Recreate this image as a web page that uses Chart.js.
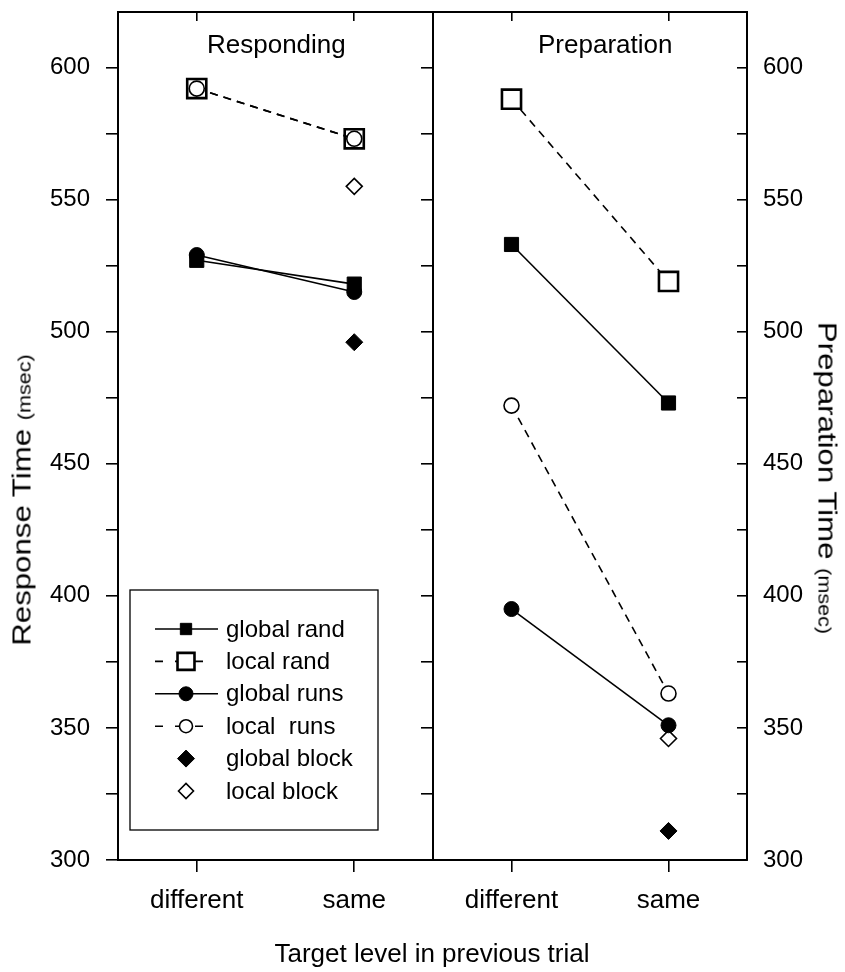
<!DOCTYPE html>
<html>
<head>
<meta charset="utf-8">
<title>Responding / Preparation</title>
<script src="https://cdn.jsdelivr.net/npm/chart.js@4.4.1/dist/chart.umd.min.js"></script>
<style>
    html, body { margin: 0; padding: 0; background: #fff; }
    #wrap { position: relative; width: 845px; height: 972px; font-family: 'Liberation Sans', Arial, sans-serif; color: #000; }
    #wrap canvas { position: absolute; left: 0; top: 0; }
    .lbl { position: absolute; white-space: nowrap; line-height: 26px; font-size: 26px; }
    .rot { transform: translate(-50%, -50%) rotate(-90deg) scaleX(1.2); }
    .rot-cw { transform: translate(-50%, -50%) rotate(90deg) scaleX(1.2); }
    .lbl small { font-size: 18px; }
</style>
</head>
<body>
<div id="wrap">
    <canvas id="chart-responding" width="845" height="972"></canvas>
    <canvas id="chart-preparation" width="845" height="972"></canvas>
    <div class="lbl" style="left:207px; top:31px;">Responding</div>
    <div class="lbl" style="left:538px; top:31px;">Preparation</div>
    <div class="lbl rot" style="left:23px; top:500px;">Response Time <small>(msec)</small></div>
    <div class="lbl rot-cw" style="left:826px; top:478px;">Preparation Time <small>(msec)</small></div>
    <div class="lbl" style="left:432px; top:940px; transform: translateX(-50%);">Target level in previous trial</div>
</div>

<script>
// Dados
const categories = ['different', 'same'];
const seriesNames = ['global rand', 'local rand', 'global runs', 'local  runs', 'global block', 'local block'];
const yTickLabels = [300, 350, 400, 450, 500, 550, 600];

// Responding (Response Time, msec)
const respGlobalRand = [527, 518];
const respLocalRand = [592, 573];
const respGlobalRuns = [529, 515];
const respLocalRuns = [592, 573];
const respGlobalBlock = [null, 496];
const respLocalBlock = [null, 555];

// Preparation (Preparation Time, msec)
const prepGlobalRand = [533, 473];
const prepLocalRand = [588, 519];
const prepGlobalRuns = [395, 351];
const prepLocalRuns = [472, 363];
const prepGlobalBlock = [null, 311];
const prepLocalBlock = [null, 346];

const FONT = "'Liberation Sans', Arial, sans-serif";

// estilo de cada série (mesma ordem de seriesNames)
const seriesStyles = [
    { pointStyle: 'rect', radius: 10, legendRadius: 8, fill: '#000', borderWidth: 1, line: true, dash: [], order: 2 },
    { pointStyle: 'rect', radius: 13.5, legendRadius: 12, fill: '#fff', borderWidth: 2.6, line: true, dash: [8, 6], order: 3 },
    { pointStyle: 'circle', radius: 7.5, legendRadius: 7, fill: '#000', borderWidth: 1, line: true, dash: [], order: 1 },
    { pointStyle: 'circle', radius: 7.5, legendRadius: 6.5, fill: '#fff', borderWidth: 1.6, line: true, dash: [8, 6], order: 0 },
    { pointStyle: 'rectRot', radius: 8.5, legendRadius: 8.5, fill: '#000', borderWidth: 1, line: false, dash: [], order: 4 },
    { pointStyle: 'rectRot', radius: 8, legendRadius: 7.5, fill: '#fff', borderWidth: 1.6, line: false, dash: [], order: 5 }
];

function buildDatasets(values) {
    return values.map((data, i) => {
        const s = seriesStyles[i];
        return {
            label: seriesNames[i],
            data: data,
            order: s.order,
            showLine: s.line,
            borderColor: '#000',
            borderWidth: 1.6,
            borderDash: s.dash,
            pointStyle: s.pointStyle,
            pointRadius: s.radius,
            pointBackgroundColor: s.fill,
            pointBorderColor: '#000',
            pointBorderWidth: s.borderWidth,
            tension: 0,
            fill: false
        };
    });
}

const tickLabel = v => yTickLabels.includes(v) ? String(v) : '';

// fixa o tamanho do eixo e remove o padding automático dos rótulos
function fixSize(width, height) {
    return s => {
        if (width !== null) s.width = width;
        if (height !== null) s.height = height;
        s.paddingTop = 0;
        s.paddingBottom = 0;
        s.paddingLeft = 0;
        s.paddingRight = 0;
    };
}

/**
 * Legenda desenhada dentro do painel esquerdo
 */
const legendBox = {
    id: 'legendBox',
    afterDraw(chart) {
        const { ctx, chartArea } = chart;
        const left = chartArea.left + 12;
        const top = chartArea.bottom - 270;
        ctx.save();
        ctx.fillStyle = '#fff';
        ctx.fillRect(left, top, 248, 240);
        ctx.lineWidth = 1.3;
        ctx.strokeStyle = '#000';
        ctx.strokeRect(left, top, 248, 240);
        ctx.font = '24px ' + FONT;
        ctx.textBaseline = 'middle';

        seriesNames.forEach((name, i) => {
            const s = seriesStyles[i];
            const y = top + 39 + i * 32.4;
            if (s.line) {
                ctx.beginPath();
                ctx.lineWidth = 1.6;
                ctx.setLineDash(s.dash.length ? [8, 12] : []);
                ctx.moveTo(left + 25, y);
                ctx.lineTo(s.dash.length ? left + 73 : left + 88, y);
                ctx.stroke();
                ctx.setLineDash([]);
            }
            ctx.fillStyle = s.fill;
            ctx.strokeStyle = '#000';
            ctx.lineWidth = s.borderWidth;
            Chart.helpers.drawPoint(ctx, { pointStyle: s.pointStyle, radius: s.legendRadius, borderWidth: s.borderWidth, rotation: 0 }, left + 56, y);
            ctx.fillStyle = '#000';
            ctx.fillText(name, left + 96, y + 1);
        });
        ctx.restore();
    }
};

function axisX() {
    return {
        type: 'category',
        labels: categories,
        position: 'bottom',
        offset: true,
        grid: { offset: false, drawOnChartArea: false, tickLength: 12, color: '#000', lineWidth: 1.6 },
        border: { display: true, color: '#000', width: 2 },
        ticks: { color: '#000', font: { family: FONT, size: 26 }, padding: 13, maxRotation: 0, autoSkip: false },
        afterFit: fixSize(null, 112)
    };
}

function axisTop() {
    return {
        type: 'category',
        labels: categories,
        position: 'top',
        offset: true,
        grid: { offset: false, drawOnChartArea: false, tickLength: -9, color: '#000', lineWidth: 1.6 },
        border: { display: true, color: '#000', width: 2 },
        ticks: { callback: () => '' },
        afterFit: fixSize(null, 0)
    };
}

function axisY(position, width, tickLength, padding, showLabels) {
    return {
        type: 'linear',
        position: position,
        min: 300,
        max: 621,
        grid: { drawOnChartArea: false, tickLength: tickLength, color: '#000', lineWidth: 1.6 },
        border: { display: true, color: '#000', width: 2 },
        ticks: {
            stepSize: 25,
            includeBounds: false,
            color: '#000',
            font: { family: FONT, size: 24 },
            padding: padding,
            callback: showLabels ? tickLabel : () => ''
        },
        afterFit: fixSize(width, null)
    };
}

const baseOptions = {
    responsive: false,
    animation: false,
    events: [],
    plugins: { legend: { display: false }, tooltip: { enabled: false } }
};

new Chart(document.getElementById('chart-responding'), {
    type: 'line',
    data: {
        labels: categories,
        datasets: buildDatasets([respGlobalRand, respLocalRand, respGlobalRuns, respLocalRuns, respGlobalBlock, respLocalBlock])
    },
    options: Object.assign({}, baseOptions, {
        layout: { autoPadding: false, padding: { left: 0, right: 412, top: 12, bottom: 0 } },
        scales: {
            x: axisX(),
            xTop: axisTop(),
            y: axisY('left', 118, 12, 16, true),
            yDivider: axisY('right', 0, -12, 0, false)
        }
    }),
    plugins: [legendBox]
});

new Chart(document.getElementById('chart-preparation'), {
    type: 'line',
    data: {
        labels: categories,
        datasets: buildDatasets([prepGlobalRand, prepLocalRand, prepGlobalRuns, prepLocalRuns, prepGlobalBlock, prepLocalBlock])
    },
    options: Object.assign({}, baseOptions, {
        layout: { autoPadding: false, padding: { left: 433, right: 0, top: 12, bottom: 0 } },
        scales: {
            x: axisX(),
            xTop: axisTop(),
            y: axisY('right', 98, -10, 26, true)
        }
    })
});
</script>
</body>
</html>
